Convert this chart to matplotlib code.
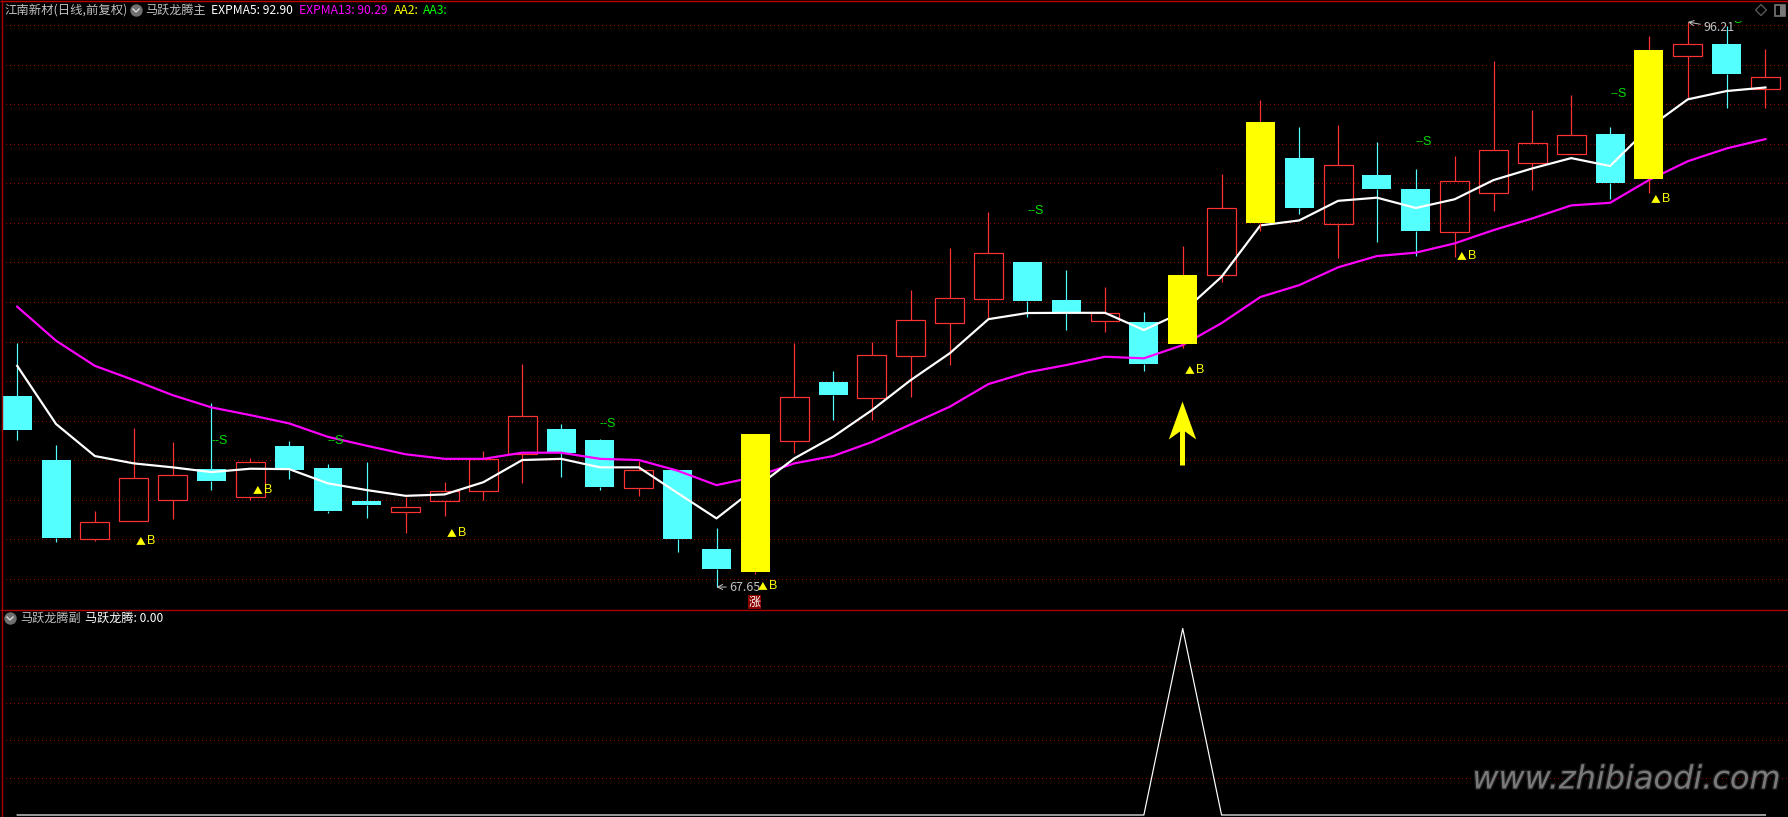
import matplotlib
matplotlib.use("Agg")
import matplotlib.pyplot as plt
import numpy as np
import matplotlib.patheffects as pe

plt.rcParams['font.family'] = ['Noto Sans CJK SC', 'DejaVu Sans']

W = 1788
H = 817

# daily candles
highs = [79.98,74.83,71.49,75.68,74.98,76.95,74.15,75.03,73.86,73.97,72.21,72.95,74.52,78.92,75.89,75.13,
         74.03,73.56,70.63,75.38,79.98,78.57,80.02,82.66,84.78,86.60,84.08,83.67,82.81,81.55,84.88,88.52,
         92.26,90.90,91.00,90.14,88.78,89.43,94.24,91.76,92.52,90.90,95.50,96.21,96.01,94.84]
body_tops = [77.30,74.07,70.92,73.14,73.29,73.61,73.95,74.77,73.66,71.99,71.68,72.48,74.12,76.28,75.63,75.08,
             73.55,73.56,69.57,75.38,77.24,78.01,79.36,81.13,82.24,84.52,84.08,82.15,81.48,81.04,83.42,86.79,
             91.15,89.33,88.96,88.47,87.77,88.16,89.72,90.08,90.48,90.55,94.79,95.08,95.10,93.41]
body_bots = [75.58,70.12,70.09,71.00,72.06,73.01,72.21,73.56,71.49,71.79,71.45,72.01,72.52,74.39,74.42,72.70,
             72.67,70.07,68.56,68.41,75.04,77.35,77.22,79.34,81.01,82.22,82.10,81.55,81.11,78.92,79.93,83.43,
             86.05,86.81,86.01,87.77,85.64,85.61,87.58,89.10,89.55,88.07,88.27,94.50,93.58,92.84]
lows = [75.08,69.92,69.99,71.00,71.08,72.55,72.04,73.11,71.39,71.14,70.38,71.24,72.03,72.90,73.21,72.55,
        72.25,69.42,67.65,68.30,74.42,76.09,76.09,77.25,78.87,81.23,81.30,80.64,80.54,78.57,79.73,83.08,
        85.66,86.50,84.28,85.09,84.38,84.33,86.65,87.72,89.55,87.26,87.56,92.32,91.86,91.88]
# c = down (cyan), r = up (hollow red), y = signal day (yellow)
kinds = "ccrrrcrcccrrrrccrccyrcrrrrccrcyrycrccrrrrcyrcr"

expma5 = [78.83,75.89,74.27,73.90,73.70,73.46,73.63,73.61,72.89,72.55,72.26,72.33,72.95,74.07,74.13,73.70,
          73.70,72.40,71.12,72.65,74.15,75.24,76.59,78.11,79.46,81.19,81.50,81.51,81.51,80.64,81.55,83.33,
          85.93,86.18,87.17,87.33,86.81,87.25,88.22,88.81,89.33,88.93,90.87,92.30,92.72,92.90]
expma13 = [81.82,80.10,78.83,78.11,77.35,76.73,76.34,75.92,75.24,74.79,74.36,74.13,74.13,74.44,74.44,74.13,
           74.07,73.53,72.80,73.22,73.90,74.27,74.98,75.87,76.76,77.91,78.50,78.87,79.29,79.21,79.88,80.99,
           82.31,82.91,83.81,84.38,84.55,85.02,85.69,86.28,86.94,87.07,88.22,89.17,89.82,90.29]
sub_line = [0]*30 + [100] + [0]*15

buy_idx = [3, 6, 11, 19, 30, 37, 42]
buy_price = [69.97, 72.55, 70.38, 67.70, 78.62, 84.38, 87.26]
sell_idx = [5, 8, 15, 26, 36, 41, 44]
sell_price = [75.03, 75.03, 75.89, 86.65, 90.14, 92.57, 96.31]

main_grid = [96.06 - 2*k for k in range(15)]
sub_grid = [20, 40, 60, 80]

RED = "#FF3232"
CYAN = "#54FFFF"
YELLOW = "#FFFF00"
MAGENTA = "#FF00FF"
GREEN = "#00E000"
LINE_RED = "#A00000"
PX = 0.72
DOTS = (0, (0.6, 4.0))

fig = plt.figure(figsize=(W/100, H/100), dpi=100, facecolor="black")
ax = fig.add_axes([2/W, 1-609/H, (W-2)/W, 588/H], facecolor="black")
ax2 = fig.add_axes([2/W, 0, (W-2)/W, 208/H], facecolor="black")
top = fig.add_axes([0, 0, 1, 1], facecolor="none")

for a in [ax, ax2]:
    a.set_xlim(-0.391, 45.58)
    a.set_xticks([])
    a.tick_params(length=0, labelleft=False)
    for s in a.spines.values():
        s.set_visible(False)
    a.set_axisbelow(True)

ax.set_ylim(66.54, 96.26)
ax.set_yticks(main_grid)
ax.grid(axis="y", color=LINE_RED, lw=PX, linestyle=DOTS, antialiased=False)

xs = np.arange(len(highs))
for i in xs:
    k = kinds[i]
    col = {"c": CYAN, "r": RED, "y": YELLOW}[k]
    wick = RED if k == "y" else col
    z = 6 if k == "y" else 2
    ax.vlines(i, body_tops[i], highs[i], color=wick, lw=PX*1.2, zorder=z)
    ax.vlines(i, lows[i], body_bots[i], color=wick, lw=PX*1.2, zorder=z)
    if k == "r":
        ax.bar(i, body_tops[i]-body_bots[i], bottom=body_bots[i], width=0.746, fill=False,
               edgecolor=RED, lw=PX*1.2, zorder=z)
    else:
        ax.bar(i, body_tops[i]-body_bots[i], bottom=body_bots[i], width=0.746, color=col, lw=0, zorder=z)

ax.plot(xs, expma13, color=MAGENTA, lw=PX*2.2, zorder=3)
ax.plot(xs, expma5, color="white", lw=PX*2.2, zorder=4)

for i, p in zip(buy_idx, buy_price):
    ax.annotate("▲", xy=(i, p), xytext=(1.6, 0), textcoords="offset points", color=YELLOW,
                fontsize=7, va="center", ha="left", zorder=8)
    ax.annotate("B", xy=(i, p), xytext=(9.6, 0), textcoords="offset points", color=YELLOW,
                fontsize=9, family="Liberation Sans", va="center", ha="left", zorder=8)
for i, p in zip(sell_idx, sell_price):
    ax.annotate("--S", xy=(i, p), xytext=(0, 0), textcoords="offset points", color=GREEN,
                fontsize=9, family="Liberation Sans", va="center", ha="left", zorder=8,
                annotation_clip=False, clip_on=True)

# price extremes
ax.annotate("67.65", xy=(18, 67.65), xytext=(9, 0), textcoords="offset points", color="#C0C0C0",
            fontsize=9, va="center", ha="left", zorder=7,
            arrowprops=dict(arrowstyle="->", color="#C0C0C0", lw=PX, shrinkA=0, shrinkB=0))
ax.annotate("96.21", xy=(43, 96.21), xytext=(11, -4), textcoords="offset points", color="#C0C0C0",
            fontsize=9, va="center", ha="left", zorder=7, annotation_clip=False,
            arrowprops=dict(arrowstyle="->", color="#C0C0C0", lw=PX, shrinkA=0, shrinkB=0))

# 涨 badge under the limit-up day
ax.annotate("涨", xy=(19, 67.65), xytext=(-0.5, -11), textcoords="offset points", color="white",
            fontsize=8.6, va="center", ha="center", zorder=8,
            bbox=dict(boxstyle="square,pad=0.06", fc="#8B0000", ec="none"))

# big arrow at the signal, base of the shaft sits on the price
arrow_x = [29.97]
arrow_base = [73.81]
arrow_shape = [(0, 64), (13.7, 26), (2.5, 34), (2.5, 0), (-2.5, 0), (-2.5, 34), (-13.7, 26), (0, 64)]
ax.plot(arrow_x, arrow_base, marker=arrow_shape, ms=2*64*PX, color=YELLOW, mew=0, zorder=9, ls="none")

# lower panel
ax2.set_ylim(-1.07, 110.46)
ax2.set_yticks(sub_grid)
ax2.grid(axis="y", color=LINE_RED, lw=PX, linestyle=DOTS, antialiased=False)
ax2.plot(xs, sub_line, color="white", lw=PX*1.2, zorder=3)

# frame, header and icons in pixel coordinates
top.set_xlim(0, W)
top.set_ylim(H, 0)
top.axis("off")
top.hlines(0.5, 0, W, color="#C00000", lw=PX*1.4)
top.vlines(1.5, 0, H, color="#A80000", lw=PX*1.4)
top.hlines(609.5, 0, W, color="#A80000", lw=PX*1.4)


def chevron(x, y):
    top.scatter([x], [y], s=80, color="#6E6E6E", lw=0)
    top.plot([x-3, x, x+3], [y-1, y+2, y-1], color="#D8D8D8", lw=1)


def head(x, y, s, col, size=8.7):
    top.text(x, y, s, color=col, fontsize=size, va="center", ha="left")


chevron(136, 10)
chevron(10, 618)
head(4, 10, "江南新材(日线,前复权)", "#C0C0C0", 8.9)
head(145, 10, "马跃龙腾主", "#C0C0C0")
head(211, 10, "EXPMA5: 92.90", "white", 8.7)
head(299, 10, "EXPMA13: 90.29", MAGENTA, 8.7)
head(394, 10, "AA2:", YELLOW, 8.7)
head(423, 10, "AA3:", "#00FF00", 8.7)
head(20, 618, "马跃龙腾副", "#C0C0C0")
head(85, 618, "马跃龙腾: 0.00", "white")

top.scatter([1761], [10], marker="D", s=31, facecolor="none", edgecolor="#555555", lw=1)
top.add_patch(plt.Rectangle((1775, 5), 10, 11, fill=False, ec="#777777", lw=1.2))
top.add_patch(plt.Rectangle((1780, 5), 5, 11, color="#777777", lw=0))

top.text(1781, 780, "www.zhibiaodi.com", color="#7A7A7A", fontsize=23, style="italic",
         family="DejaVu Sans", va="center", ha="right",
         path_effects=[pe.withStroke(linewidth=2, foreground="#1C1C1C")])

fig.savefig("out.png", dpi=100, facecolor="black")
